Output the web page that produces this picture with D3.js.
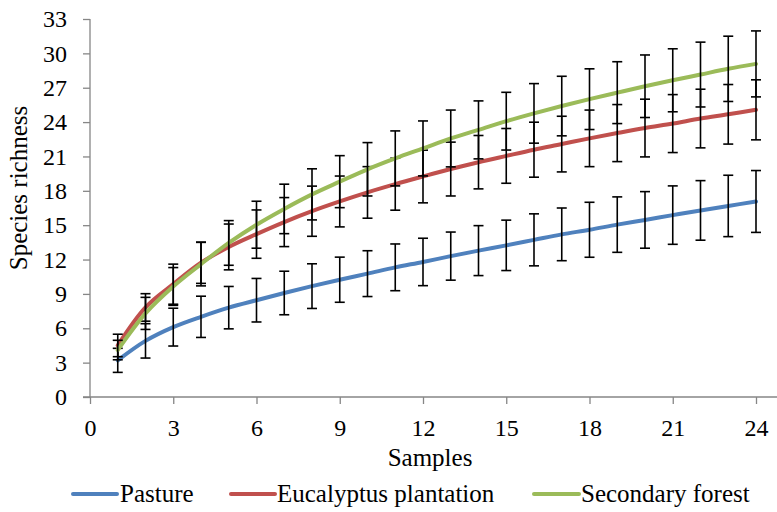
<!DOCTYPE html>
<html>
<head>
<meta charset="utf-8">
<script src="https://cdn.jsdelivr.net/npm/d3@7"></script>
<style>
  body { margin: 0; background: #fff; }
  svg { display: block; }
</style>
</head>
<body>
<svg id="chart" width="777" height="512"></svg>
<script>
const samples = [1,2,3,4,5,6,7,8,9,10,11,12,13,14,15,16,17,18,19,20,21,22,23,24];
const seriesNames = ["Pasture", "Eucalyptus plantation", "Secondary forest"];
const pastureMean = [3.2,4.9,6.1,7.0,7.8,8.45,9.08,9.68,10.24,10.77,11.32,11.79,12.3,12.78,13.24,13.72,14.2,14.6,15.05,15.46,15.88,16.29,16.68,17.07];
const pastureErr  = [1.05,1.5,1.65,1.8,1.85,1.9,1.9,1.95,1.97,2.0,2.04,2.07,2.1,2.18,2.2,2.27,2.3,2.4,2.42,2.47,2.55,2.6,2.68,2.7];
const eucalyptusMean = [4.5,7.82,9.85,11.72,13.1,14.22,15.27,16.22,17.07,17.86,18.58,19.25,19.9,20.5,21.05,21.59,22.08,22.58,23.04,23.48,23.87,24.31,24.68,25.07];
const eucalyptusErr  = [0.98,1.2,1.75,1.8,2.0,2.11,2.14,2.19,2.22,2.25,2.27,2.3,2.35,2.33,2.39,2.4,2.43,2.47,2.49,2.52,2.53,2.56,2.6,2.62];
const forestMean = [4.1,7.3,9.65,11.6,13.45,15.04,16.42,17.69,18.8,19.88,20.83,21.7,22.57,23.32,24.08,24.76,25.4,26.0,26.57,27.13,27.65,28.15,28.65,29.08];
const forestErr  = [0.85,1.4,1.65,1.9,1.95,2.05,2.16,2.23,2.27,2.33,2.4,2.4,2.48,2.53,2.52,2.6,2.6,2.65,2.7,2.73,2.75,2.83,2.85,2.88];
const xTicks = [0,3,6,9,12,15,18,21,24];
const yTicks = [0,3,6,9,12,15,18,21,24,27,30,33];
const colors = ["#4F81BD", "#C0504D", "#9BBB59"];

const series = [
  {name: seriesNames[0], mean: pastureMean, err: pastureErr, color: colors[0]},
  {name: seriesNames[1], mean: eucalyptusMean, err: eucalyptusErr, color: colors[1]},
  {name: seriesNames[2], mean: forestMean, err: forestErr, color: colors[2]}
];

const FONT = "'Liberation Serif', 'Times New Roman', Times, Tinos, 'Noto Serif', 'DejaVu Serif', FreeSerif, serif";
const svg = d3.select("#chart");
const axisColor = "#868686";
const fontSize = 24;

const x = d3.scaleLinear().domain([0, 24]).range([90, 756]);
const y = d3.scaleLinear().domain([0, 33]).range([397, 19]);

// axes
const xAxis = svg.append("g").attr("transform", "translate(0,397)")
  .call(d3.axisBottom(x).tickValues(xTicks).tickSize(7).tickPadding(15).tickSizeOuter(0));
xAxis.attr("font-family", FONT).attr("font-size", fontSize);
xAxis.select(".domain").remove();
xAxis.selectAll(".tick line").attr("stroke", axisColor).attr("stroke-width", 1.3);
xAxis.selectAll("text").attr("fill", "#000").attr("font-family", FONT);
svg.append("line").attr("x1", 83).attr("x2", 777).attr("y1", 397).attr("y2", 397)
  .attr("stroke", axisColor).attr("stroke-width", 1.3);

const yAxis = svg.append("g").attr("transform", "translate(90,0)")
  .call(d3.axisLeft(y).tickValues(yTicks).tickSize(7).tickPadding(16).tickSizeOuter(0));
yAxis.attr("font-family", FONT).attr("font-size", fontSize);
yAxis.select(".domain").remove();
yAxis.selectAll(".tick line").attr("stroke", axisColor).attr("stroke-width", 1.3);
yAxis.selectAll("text").attr("fill", "#000").attr("font-family", FONT);
svg.append("line").attr("x1", 90).attr("x2", 90).attr("y1", y(33)).attr("y2", 397)
  .attr("stroke", axisColor).attr("stroke-width", 1.3);

// axis titles
svg.append("text").attr("x", 430).attr("y", 466).attr("text-anchor", "middle")
  .attr("font-family", FONT).attr("font-size", 25).text("Samples");
svg.append("text").attr("transform", "translate(27,188) rotate(-90)").attr("text-anchor", "middle")
  .attr("font-family", FONT).attr("font-size", 25).text("Species richness");

// series
const line = d3.line().curve(d3.curveCatmullRom.alpha(0.5))
  .x((d, i) => x(samples[i])).y(d => y(d));

series.forEach(s => {
  svg.append("path").datum(s.mean).attr("d", line)
    .attr("fill", "none").attr("stroke", s.color).attr("stroke-width", 4)
    .attr("stroke-linecap", "round");
  const g = svg.append("g").attr("stroke", "#000").attr("stroke-width", 1.6);
  const cap = 5;
  samples.forEach((sx, i) => {
    const cx = x(sx), top = y(s.mean[i] + s.err[i]), bot = y(s.mean[i] - s.err[i]);
    g.append("line").attr("x1", cx).attr("x2", cx).attr("y1", top).attr("y2", bot);
    g.append("line").attr("x1", cx - cap).attr("x2", cx + cap).attr("y1", top).attr("y2", top);
    g.append("line").attr("x1", cx - cap).attr("x2", cx + cap).attr("y1", bot).attr("y2", bot);
  });
});

// legend
const legendItems = [
  {x1: 73, x2: 117, tx: 120},
  {x1: 231, x2: 275, tx: 277},
  {x1: 534, x2: 579, tx: 581}
];
series.forEach((s, i) => {
  const L = legendItems[i];
  svg.append("line").attr("x1", L.x1).attr("x2", L.x2).attr("y1", 494).attr("y2", 494)
    .attr("stroke", s.color).attr("stroke-width", 4).attr("stroke-linecap", "round");
  svg.append("text").attr("x", L.tx).attr("y", 502)
    .attr("font-family", FONT).attr("font-size", 25).text(s.name);
});
</script>
</body>
</html>
